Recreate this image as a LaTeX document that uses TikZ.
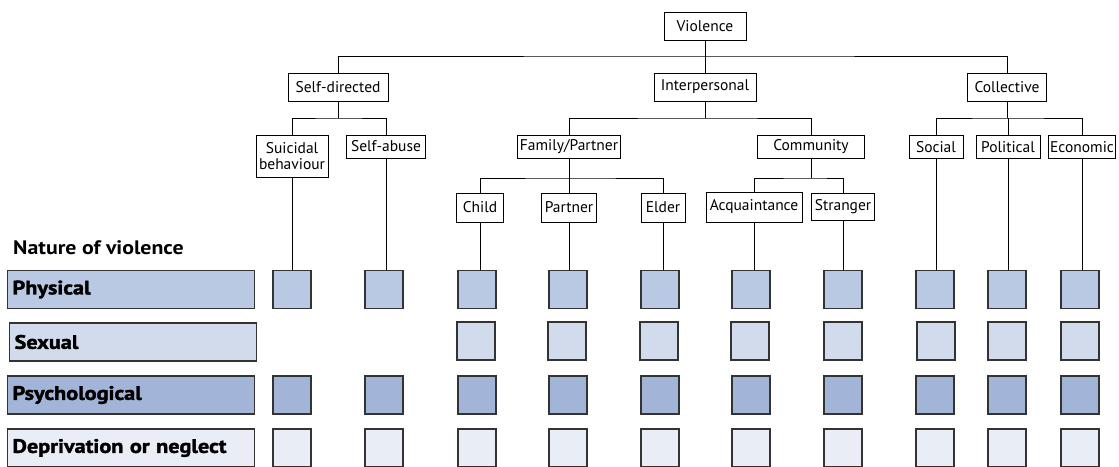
\documentclass[tikz,border=0pt]{standalone}
\usepackage{fontspec}
\setmainfont{PT Sans}
\newfontfamily\heavyfont{PT Sans}[BoldFeatures={FakeBold=1.8,FakeStretch=1.14}]
\newfontfamily\semifont{PT Sans}[BoldFeatures={FakeStretch=1.12}]
\definecolor{physc}{HTML}{BAC9E3}
\definecolor{sexc}{HTML}{D2DBEC}
\definecolor{psyc}{HTML}{A2B4D8}
\definecolor{depc}{HTML}{E8EDF6}
\definecolor{edgec}{HTML}{333333}
\begin{document}
\begin{tikzpicture}[x=1pt,y=-1pt,
  cat/.style={draw, line width=0.8pt, fill=white, inner xsep=1.5pt, inner ysep=1pt,
    font=\fontsize{15.5}{16}\selectfont, align=center},
  sq/.style={draw=edgec, line width=1.1pt, minimum size=38pt, inner sep=0pt},
  lab/.style={draw=edgec, line width=1.1pt, minimum height=38pt, inner xsep=5pt,
    text width=237pt, align=left, font=\heavyfont\fontsize{19.5}{20}\bfseries\selectfont},
  conn/.style={line width=0.8pt}]
\useasboundingbox (0,0) rectangle (1119,466);
\clip (0,0) rectangle (1119,466);
% tree
\node[cat, minimum width=82pt, minimum height=28pt] (V) at (705,26) {Violence};
\node[cat, minimum width=100pt, minimum height=28pt] (SD) at (338,87) {Self-directed};
\node[cat, minimum width=102pt, minimum height=28pt] (I) at (705,87) {Interpersonal};
\node[cat, minimum width=79pt, minimum height=28pt] (C) at (1007,87) {Collective};
\node[cat, minimum width=72pt, minimum height=42pt] (SB) at (292,156) {Suicidal\\behaviour};
\node[cat, minimum width=79pt, minimum height=23pt] (SA) at (386,146.5) {Self-abuse};
\node[cat, minimum width=103pt, minimum height=23pt] (FP) at (569,146.5) {Family/Partner};
\node[cat, minimum width=107pt, minimum height=23pt] (CM) at (811,147) {Community};
\node[cat, minimum width=54pt, minimum height=23pt] (SO) at (936,147) {Social};
\node[cat, minimum width=64pt, minimum height=23pt] (PO) at (1008,147) {Political};
\node[cat, minimum width=67pt, minimum height=23pt] (EC) at (1082,147) {Economic};
\node[cat, minimum width=47pt, minimum height=29pt] (CH) at (480,207.5) {Child};
\node[cat, minimum width=55pt, minimum height=29pt] (PA) at (569,207.5) {Partner};
\node[cat, minimum width=44pt, minimum height=29pt] (EL) at (663,207.5) {Elder};
\node[cat, minimum width=96pt, minimum height=30pt] (AQ) at (754,207) {Acquaintance};
\node[cat, minimum width=63pt, minimum height=27pt] (ST) at (843,206.5) {Stranger};
% tree connectors
\draw[conn] (V.south) -- (I.north);
\draw[conn] (SD.north) |- (V.south |- 0,56) -| (C.north);
\draw[conn] (SD.south) -- (SD.south |- 0,118);
\draw[conn] (SB.north) |- (SD.south |- 0,118) -| (SA.north);
\draw[conn] (I.south) -- (I.south |- 0,118);
\draw[conn] (FP.north) |- (I.south |- 0,118) -| (CM.north);
\draw[conn] (C.south) -- (C.south |- 0,118);
\draw[conn] (SO.north) |- (C.south |- 0,118) -| (EC.north);
\draw[conn] (PO.north) -- (PO.north |- 0,118);
\draw[conn] (FP.south) -- (FP.south |- 0,178);
\draw[conn] (CH.north) |- (FP.south |- 0,178) -| (EL.north);
\draw[conn] (PA.north) -- (PA.north |- 0,178);
\draw[conn] (CM.south) -- (CM.south |- 0,178);
\draw[conn] (AQ.north) |- (CM.south |- 0,178) -| (ST.north);
% label
\node[anchor=west, font=\semifont\fontsize{19.5}{20}\bfseries\selectfont, inner sep=0pt] (NV) at (13,248) {Nature of violence};
\node[lab, fill=physc, anchor=west] (LP) at (7,289.5) {Physical};
\node[lab, fill=sexc, anchor=west] (LS) at (9,342) {Sexual};
\node[lab, fill=psyc, anchor=west] (LY) at (7,395) {Psychological};
\node[lab, fill=depc, anchor=west] (LD) at (7,448) {Deprivation or neglect};
% squares
\foreach \n/\x in {SB/292,SA/384,CH/477,PA/568,EL/660,AQ/751,ST/843,SO/935,PO/1007,EC/1080}{
  \node[sq, fill=physc] (P\n) at (\x,289.5) {};
  \node[sq, fill=psyc] (Y\n) at (\x,395) {};
  \node[sq, fill=depc] (D\n) at (\x,448) {};
  \draw[conn] (\n.south) -- (\n.south |- P\n.north);
}
\foreach \n/\x in {CH/476,PA/567,EL/659,AQ/750,ST/843,SO/936,PO/1007,EC/1080}{
  \node[sq, fill=sexc] (S\n) at (\x,341) {};
}
\end{tikzpicture}
\end{document}
